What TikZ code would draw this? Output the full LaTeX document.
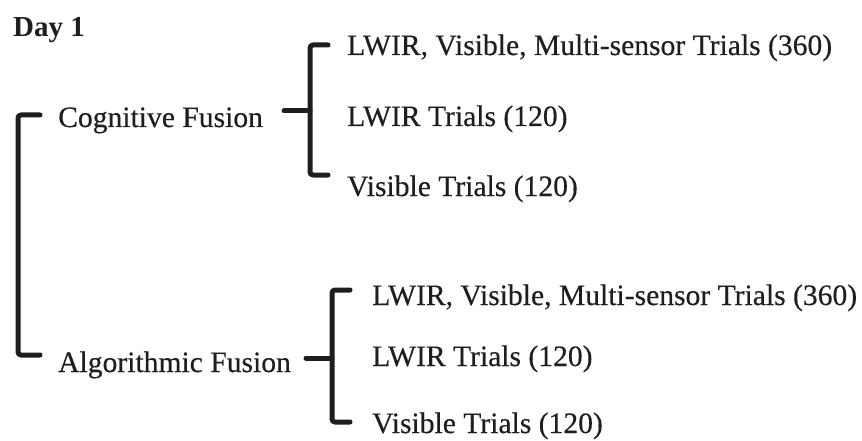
\documentclass[tikz,border=0pt]{standalone}
\usepackage{fontspec}
\setmainfont{Liberation Serif}
% a slightly heavier cut of the serif face for all labels
\newfontfamily\labelfont{Liberation Serif}[FakeBold=0.35]
\definecolor{ink}{HTML}{1E1E1E}
\begin{document}
\begin{tikzpicture}[x=1pt,y=-1pt,
  lbl/.style={anchor=base west,inner sep=0pt,text=ink,font=\labelfont\fontsize{29.6}{32}\selectfont},
  ttl/.style={anchor=base west,inner sep=0pt,text=ink,font=\fontsize{29}{32}\selectfont\bfseries},
  brace/.style={draw=ink,line width=5pt,rounded corners=3pt,line cap=round,line join=round}]
\useasboundingbox (0,0) rectangle (862,441);

% heading
\node[ttl] (day) at (13,37) {Day 1};

% second level
\node[lbl] (cog) at (58,127) {Cognitive Fusion};
\node[lbl] (alg) at (58,372) {Algorithmic Fusion};

% third level, cognitive branch
\node[lbl] (c1) at (347,55)  {LWIR, Visible, Multi-sensor Trials (360)};
\node[lbl] (c2) at (347,126) {LWIR Trials (120)};
\node[lbl] (c3) at (347,196) {Visible Trials (120)};

% third level, algorithmic branch
\node[lbl] (a1) at (372,305) {LWIR, Visible, Multi-sensor Trials (360)};
\node[lbl] (a2) at (372,366) {LWIR Trials (120)};
\node[lbl] (a3) at (372,433) {Visible Trials (120)};

% bracket joining the two fusion modes
\coordinate (lt) at (40,115);
\coordinate (lb) at (40,355);
\draw[brace] (lt) -- (18,115) -- (18,355) -- (lb);

% bracket of the cognitive branch
\coordinate (cs) at (284,111);
\coordinate (ct) at (328,45);
\coordinate (cb) at (328,175);
\draw[brace] (ct) -- (310,45) -- (310,175) -- (cb);
\draw[brace,rounded corners=0pt] (cs) -- (310,111);

% bracket of the algorithmic branch
\coordinate (as) at (306,358);
\coordinate (at) at (350,290);
\coordinate (ab) at (350,422);
\draw[brace] (at) -- (332,290) -- (332,422) -- (ab);
\draw[brace,rounded corners=0pt] (as) -- (332,358);
\end{tikzpicture}
\end{document}
